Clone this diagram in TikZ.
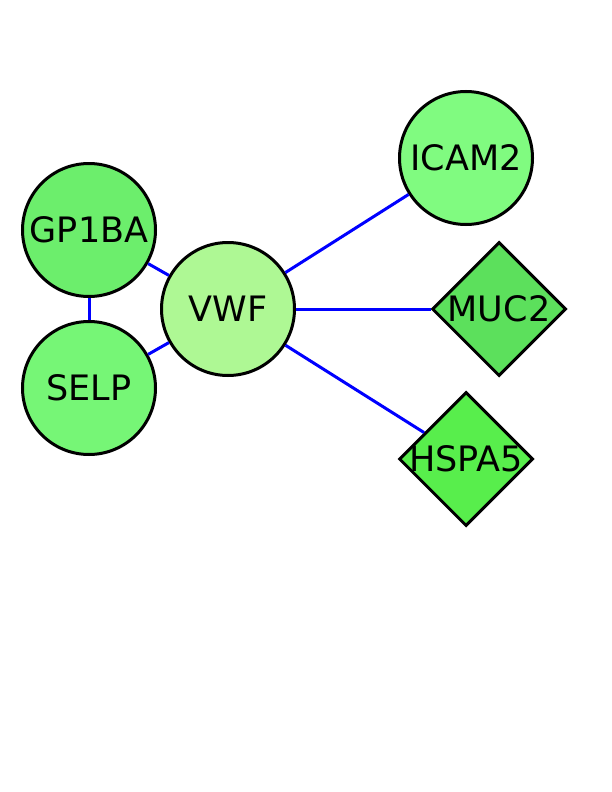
\documentclass[tikz,border=0pt]{standalone}
\usepackage{fontspec}
\setmainfont{DejaVu Sans}
\usetikzlibrary{shapes.geometric}
\definecolor{vwfcol}{HTML}{AEF894}
\definecolor{gpcol}{HTML}{6CEE6C}
\definecolor{selcol}{HTML}{76F676}
\definecolor{icamcol}{HTML}{80FB80}
\definecolor{muccol}{HTML}{5CE05C}
\definecolor{hspcol}{HTML}{58EE4C}
\tikzset{genecirc/.style={circle, draw=black, line width=3pt, minimum size=133pt, inner sep=0pt},
  genediam/.style={diamond, draw=black, line width=3pt, minimum size=134pt, inner sep=0pt, aspect=1},
  link/.style={draw=blue, line width=3pt}}

\begin{document}
\begin{tikzpicture}[x=1pt, y=-1pt, font=\fontsize{35}{35}\selectfont]
  \useasboundingbox (0,0) rectangle (612,792);
  \node[genecirc, fill=vwfcol, label=center:VWF] (vwf) at (228,309) {};
  \node[genecirc, fill=gpcol, label=center:GP1BA] (gp1ba) at (89,230) {};
  \node[genecirc, fill=selcol, label=center:SELP] (selp) at (89,388) {};
  \node[genecirc, fill=icamcol, label=center:ICAM2] (icam2) at (466,158) {};
  \node[genediam, fill=muccol, label=center:MUC2] (muc2) at (499,309) {};
  \node[genediam, fill=hspcol, label=center:HSPA5] (hspa5) at (466,459) {};
  \draw[link] (gp1ba) -- (selp);
  \draw[link] (vwf) -- (gp1ba);
  \draw[link] (vwf) -- (selp);
  \draw[link] (vwf) -- (icam2);
  \draw[link] (vwf) -- (muc2);
  \draw[link] (vwf) -- (hspa5);
\end{tikzpicture}
\end{document}
